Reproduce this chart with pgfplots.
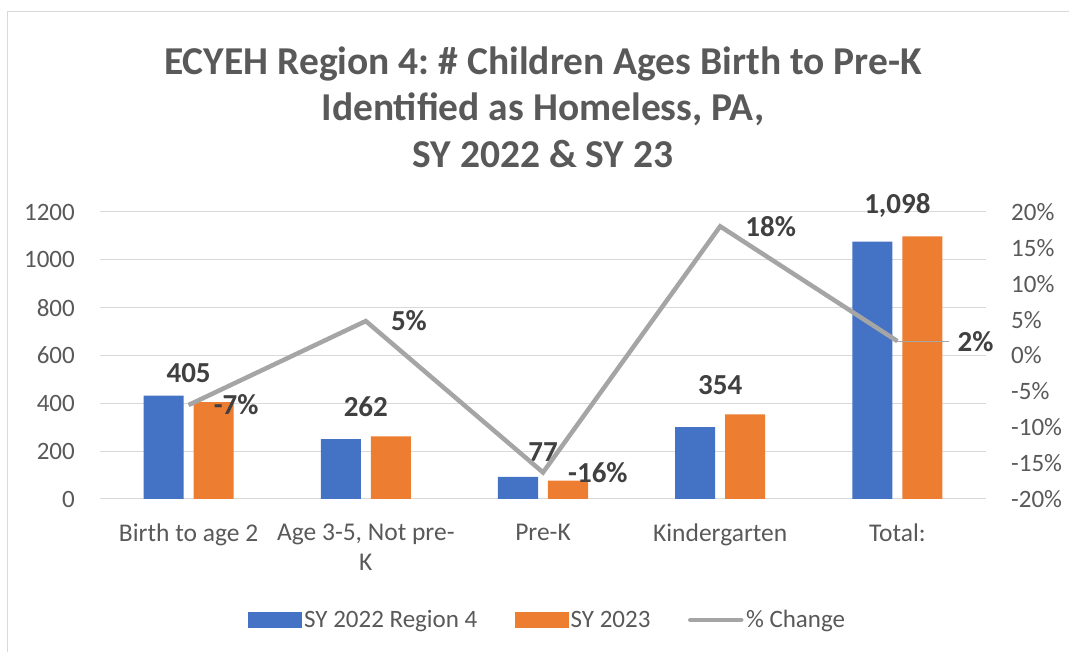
\documentclass[border=0pt]{standalone}
\usepackage{pgfplots}
\pgfplotsset{compat=1.18}
\usepackage{fontspec}
\setmainfont{Carlito}
\frenchspacing
\definecolor{cblue}{HTML}{4472C4}
\definecolor{corange}{HTML}{ED7D31}
\definecolor{cgray}{HTML}{A5A5A5}
\definecolor{textc}{HTML}{595959}
\definecolor{labc}{HTML}{404040}
\definecolor{gridc}{HTML}{D9D9D9}
\begin{document}
\begin{tikzpicture}[x=1pt,y=1pt]
\useasboundingbox (0,0) rectangle (1069,652);
\draw[gridc, line width=1pt] (7,-20) rectangle (1090,640);
\node[align=center, font=\fontsize{39.5}{46.5}\selectfont\bfseries, text=textc] at (543,545)
  {ECYEH Region 4: \# Children Ages Birth to Pre-K\\Identified as Homeless, PA,\\SY 2022 \& SY 23};

\begin{axis}[
  at={(100pt,153pt)}, anchor=south west, scale only axis,
  width=886pt, height=287pt,
  xmin=-0.5, xmax=4.5, ymin=0, ymax=1200,
  ytick={0,200,...,1200},
  xtick={0,1,2,3,4},
  xticklabels={Birth to age 2,{Age 3-5, Not pre-\\K},Pre-K,Kindergarten,Total:},
  axis line style={draw=none},
  major tick length=0pt,
  ymajorgrids, grid style={gridc, line width=1pt},
  /pgf/number format/assume math mode=true,
  /pgf/number format/1000 sep={},
  yticklabel style={font=\fontsize{25}{25}\selectfont, text=textc, anchor=east, inner sep=0pt, xshift=-25pt},
  xticklabel style={font=\fontsize{25.5}{30}\selectfont, text=textc, align=center, anchor=north, inner sep=0pt, yshift=-25pt},
  clip=false,
]
\addplot[ybar, bar width=0.226, bar shift=-0.141, fill=cblue, draw=none]
  coordinates {(0,432) (1,250) (2,92) (3,300) (4,1076)};
\addplot[ybar, bar width=0.226, bar shift=0.141, fill=corange, draw=none,
  point meta=explicit symbolic, nodes near coords,
  nodes near coords style={font=\fontsize{29}{29}\selectfont\bfseries, text=labc, anchor=south, inner sep=0pt, yshift=19pt}]
  table[meta=lab] {
x y lab
0 405 405
1 262 262
2 77 77
3 354 354
4 1098 1,098
};
\end{axis}

\begin{axis}[
  at={(100pt,153pt)}, anchor=south west, scale only axis,
  width=886pt, height=287pt,
  xmin=-0.5, xmax=4.5, ymin=-20, ymax=20,
  ytick={-20,-15,...,20},
  axis y line*=right, axis x line=none,
  axis line style={draw=none},
  major tick length=0pt,
  /pgf/number format/assume math mode=true,
  yticklabel={\pgfmathprintnumber{\tick}\%},
  yticklabel style={font=\fontsize{25}{25}\selectfont, text=textc, anchor=west, inner sep=0pt, xshift=25pt},
  clip=false,
  legend columns=3,
  legend style={draw=none, fill=none, at={(0.5056,-0.4216)}, anchor=center,
    font=\fontsize{25}{25}\selectfont, text=textc,
    nodes={inner sep=2.5pt},
    /tikz/every even column/.append style={column sep=35pt}},
]
\addlegendimage{legend image code/.code={\fill[cblue] (0pt,-7.5pt) rectangle (53pt,7.5pt);}}
\addlegendentry{SY 2022 Region 4}
\addlegendimage{legend image code/.code={\fill[corange] (0pt,-7.5pt) rectangle (53pt,7.5pt);}}
\addlegendentry{SY 2023}
\addplot[cgray, line width=4.5pt, mark=none,
  legend image code/.code={\draw[cgray, line width=4.5pt, line cap=round] (2pt,0pt) -- (53pt,0pt);}]
  coordinates {(0,-6.9) (1,4.8) (2,-16.3) (3,18.0) (4,2.0)};
\addlegendentry{\% Change}
\addplot[draw=none, mark=none, point meta=explicit symbolic, nodes near coords,
  nodes near coords style={font=\fontsize{29}{29}\selectfont\bfseries, text=labc, anchor=west, inner sep=0pt, xshift=25pt}]
  table[meta=lab] {
x y lab
0 -6.9 -7\%
1 4.8 5\%
2 -16.3 -16\%
3 18.0 18\%
};
\addplot[cgray, line width=1.2pt, mark=none] coordinates {(4,2.0) (4.29,2.0)};
\addplot[draw=none, mark=none, point meta=explicit symbolic, nodes near coords,
  nodes near coords style={font=\fontsize{29}{29}\selectfont\bfseries, text=labc, anchor=west, inner sep=0pt, xshift=60pt}]
  table[meta=lab] {
x y lab
4 2.0 2\%
};
\end{axis}
\end{tikzpicture}
\end{document}
